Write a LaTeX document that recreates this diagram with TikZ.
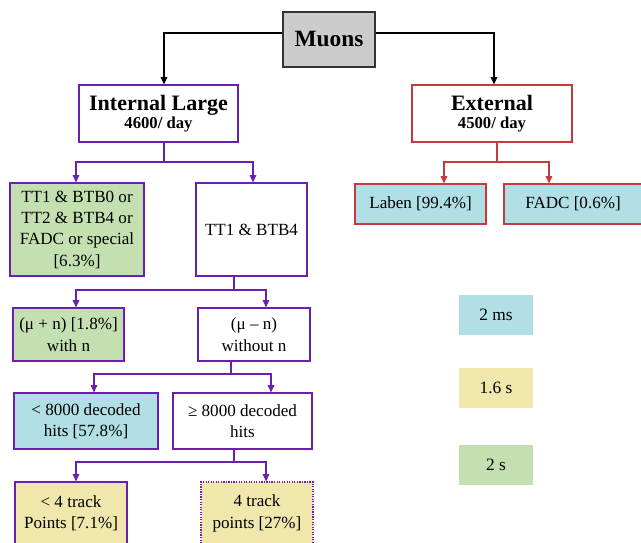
\documentclass[tikz,border=0pt]{standalone}
\usepackage{fontspec}
\setmainfont{Liberation Serif}
\usetikzlibrary{arrows.meta}
\definecolor{pur}{HTML}{6A1FB0}
\definecolor{red1}{HTML}{C8393B}
\definecolor{gfill}{HTML}{C5E0B0}
\definecolor{bfill}{HTML}{B0DFE5}
\definecolor{yfill}{HTML}{EFE7AC}
\definecolor{gray1}{HTML}{CCCCCC}
\tikzset{
  box/.style={draw, line width=0.9pt, align=center, inner sep=1pt,
    font=\fontsize{12.8}{16}\selectfont},
  pbox/.style={box, draw=pur},
  rbox/.style={box, draw=red1},
  legbox/.style={align=center, inner sep=1pt, minimum width=55.5pt, minimum height=30pt,
    font=\fontsize{13}{16}\selectfont},
  tip/.style={-{Triangle[length=5.5pt,width=5pt]}},
  parr/.style={tip, draw=pur, line width=0.8pt},
  rarr/.style={tip, draw=red1, line width=0.8pt},
  karr/.style={tip, draw=black, line width=0.8pt},
}
\begin{document}
\begin{tikzpicture}[x=0.75pt,y=-0.75pt]
\useasboundingbox (0,0) rectangle (641,542);
\clip (0,0) rectangle (641,542);
% nodes
\node[box, draw=black!80, fill=gray1, minimum width=69pt, minimum height=41.25pt,
  font=\fontsize{17.5}{20}\selectfont\bfseries] (mu) at (329,39.5) {Muons};
\node[pbox, minimum width=119.25pt, minimum height=42.75pt] (il) at (158.5,113.5)
  {{\fontsize{16.5}{19}\selectfont\bfseries Internal Large}\\[-2pt]{\fontsize{12.5}{14}\selectfont\bfseries 4600/ day}};
\node[rbox, minimum width=120pt, minimum height=42.75pt] (ex) at (492,113.5)
  {{\fontsize{16.5}{19}\selectfont\bfseries External}\\[-2pt]{\fontsize{12.5}{14}\selectfont\bfseries 4500/ day}};
\node[pbox, fill=gfill, minimum width=100.5pt, minimum height=69.75pt] (g1) at (77,229.5)
  {TT1 \& BTB0 or\\ TT2 \& BTB4 or\\FADC or special\\{[}6.3\%{]}};
\node[pbox, minimum width=83.25pt, minimum height=69.75pt] (tb4) at (251.5,229.5) {TT1 \& BTB4};
\node[pbox, fill=gfill, minimum width=83.25pt, minimum height=39.75pt] (mpn) at (68.5,334.5)
  {(μ + n) [1.8\%]\\with n};
\node[pbox, minimum width=84pt, minimum height=39.75pt] (mmn) at (254,334.5)
  {(μ – n)\\without n};
\node[pbox, fill=bfill, minimum width=108pt, minimum height=42pt] (lt8) at (86,421)
  {< 8000 decoded\\hits [57.8\%]};
\node[pbox, minimum width=104.25pt, minimum height=42pt] (ge8) at (242.5,421)
  {≥ 8000 decoded\\hits};
\node[pbox, fill=yfill, minimum width=84pt, minimum height=47.25pt] (lt4) at (71,513.5)
  {< 4 track\\Points [7.1\%]};
\node[pbox, fill=yfill, densely dotted, minimum width=84pt, minimum height=47.25pt] (t4) at (257,513.5)
  {4 track\\points [27\%]};
\node[rbox, fill=bfill, minimum width=98.25pt, minimum height=30pt] (lab) at (420.5,204)
  {Laben [99.4\%]};
\node[rbox, fill=bfill, minimum width=103.5pt, minimum height=30pt] (fadc) at (573,204)
  {FADC [0.6\%]};
% legend
\node[legbox, fill=bfill] (l1) at (496,315) {2 ms};
\node[legbox, fill=yfill] (l2) at (496,388) {1.6 s};
\node[legbox, fill=gfill] (l3) at (496,465) {2 s};
% connectors
\draw[karr] (mu.west |- 0,33) -| (il.north -| 164,0);
\draw[karr] (mu.east |- 0,33) -| (ex.north -| 494,0);
\draw[pur, line width=0.8pt] (il.south -| 164,0) -- (164,162) coordinate (j1);
\draw[parr] (j1) -| (g1.north -| 76,0);
\draw[parr] (j1) -| (tb4.north -| 253,0);
\draw[red1, line width=0.8pt] (ex.south -| 497,0) -- (497,162) coordinate (j2);
\draw[rarr] (j2) -| (lab.north -| 444,0);
\draw[rarr] (j2) -| (fadc.north -| 549,0);
\draw[pur, line width=0.8pt] (tb4.south -| 234,0) -- (234,290) coordinate (j3);
\draw[parr] (j3) -| (mpn.north -| 76,0);
\draw[parr] (j3) -| (mmn.north -| 266,0);
\draw[pur, line width=0.8pt] (mmn.south -| 231,0) -- (231,374) coordinate (j4);
\draw[parr] (j4) -| (lt8.north -| 94,0);
\draw[parr] (j4) -| (ge8.north -| 271,0);
\draw[pur, line width=0.8pt] (ge8.south -| 234,0) -- (234,462) coordinate (j5);
\draw[parr] (j5) -| (lt4.north -| 76,0);
\draw[parr] (j5) -| (t4.north -| 266,0);
\end{tikzpicture}
\end{document}
